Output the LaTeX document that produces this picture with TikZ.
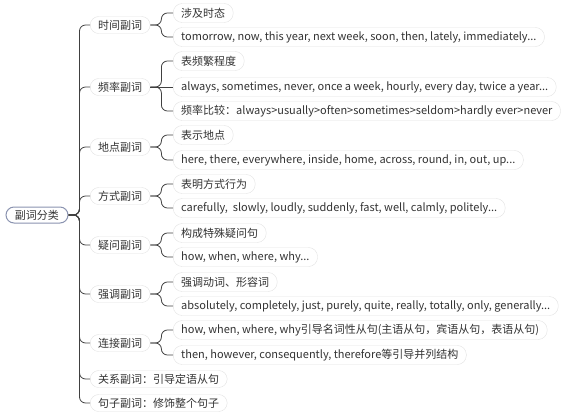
\documentclass[tikz,border=0pt]{standalone}
\usepackage{fontspec}
\setmainfont{Noto Sans CJK SC}
\usepackage{tikz}
\usetikzlibrary{shapes, arrows.meta}

\definecolor{txt}{HTML}{333333}
\definecolor{pill}{HTML}{E2E2E2}
\definecolor{rootline}{HTML}{8A93B0}
\definecolor{wire}{HTML}{404040}

\begin{document}
\begin{tikzpicture}[x=1pt, y=-1pt,
    root/.style={draw=rootline, line width=1pt, rounded corners=8pt, fill=white, text=txt,
                 minimum height=16pt, inner xsep=9pt, inner ysep=1pt, font=\fontsize{11}{12}\selectfont},
    topic/.style={draw=pill, rounded corners=8.5pt, fill=white, text=txt, anchor=west,
                  minimum height=17pt, inner xsep=8pt, inner ysep=1pt, font=\fontsize{11}{12}\selectfont},
    leaf/.style={draw=pill, rounded corners=9pt, fill=white, text=txt, anchor=west,
                 minimum height=19pt, inner xsep=8pt, inner ysep=1pt, font=\fontsize{11}{12}\selectfont},
    link/.style={draw=wire, line width=0.8pt, rounded corners=6pt}]
            \useasboundingbox (0,0) rectangle (576,416);

            \node[root] (root) at (37, 215) {副词分类};

            \node[topic] (t1) at (90, 25) {时间副词};
            \node[topic] (t2) at (90, 87) {频率副词};
            \node[topic] (t3) at (90, 147) {地点副词};
            \node[topic] (t4) at (90, 196) {方式副词};
            \node[topic] (t5) at (90, 245) {疑问副词};
            \node[topic] (t6) at (90, 294) {强调副词};
            \node[topic] (t7) at (90, 343) {连接副词};
            \node[topic] (t8) at (90, 379) {关系副词：引导定语从句};
            \node[topic] (t9) at (90, 403) {句子副词：修饰整个句子};

            \node[leaf] (l11) at (173, 13) {涉及时态};
            \node[leaf] (l12) at (173, 37) {tomorrow, now, this year, next week, soon, then, lately, immediately...};
            \node[leaf] (l21) at (173, 61) {表频繁程度};
            \node[leaf] (l22) at (173, 87) {always, sometimes, never, once a week, hourly, every day, twice a year...};
            \node[leaf] (l23) at (173, 111) {频率比较：always>usually>often>sometimes>seldom>hardly ever>never};
            \node[leaf] (l31) at (173, 135) {表示地点};
            \node[leaf] (l32) at (173, 160) {here, there, everywhere, inside, home, across, round, in, out, up...};
            \node[leaf] (l41) at (173, 184) {表明方式行为};
            \node[leaf] (l42) at (173, 208) {carefully,\ \ slowly, loudly, suddenly, fast, well, calmly, politely...};
            \node[leaf] (l51) at (173, 233) {构成特殊疑问句};
            \node[leaf] (l52) at (173, 257) {how, when, where, why...};
            \node[leaf] (l61) at (173, 282) {强调动词、形容词};
            \node[leaf] (l62) at (173, 306) {absolutely, completely, just, purely, quite, really, totally, only, generally...};
            \node[leaf] (l71) at (173, 330) {how, when, where, why引导名词性从句(主语从句，宾语从句，表语从句)};
            \node[leaf] (l72) at (173, 355) {then, however, consequently, therefore等引导并列结构};

            % trunk
            \draw[link] (root.east) -- ++(11,0) |- (t1.west);
            \draw[link] (root.east) -- ++(11,0) |- (t2.west);
            \draw[link] (root.east) -- ++(11,0) |- (t3.west);
            \draw[link] (root.east) -- ++(11,0) |- (t4.west);
            \draw[link] (root.east) -- ++(11,0) |- (t5.west);
            \draw[link] (root.east) -- ++(11,0) |- (t6.west);
            \draw[link] (root.east) -- ++(11,0) |- (t7.west);
            \draw[link] (root.east) -- ++(11,0) |- (t8.west);
            \draw[link] (root.east) -- ++(11,0) |- (t9.west);

            % branches
            \draw[link] (t1.east) -- ++(11,0) |- (l11.west);
            \draw[link] (t1.east) -- ++(11,0) |- (l12.west);
            \draw[link] (t2.east) -- ++(11,0) |- (l21.west);
            \draw[link] (t2.east) -- (l22.west);
            \draw[link] (t2.east) -- ++(11,0) |- (l23.west);
            \draw[link] (t3.east) -- ++(11,0) |- (l31.west);
            \draw[link] (t3.east) -- ++(11,0) |- (l32.west);
            \draw[link] (t4.east) -- ++(11,0) |- (l41.west);
            \draw[link] (t4.east) -- ++(11,0) |- (l42.west);
            \draw[link] (t5.east) -- ++(11,0) |- (l51.west);
            \draw[link] (t5.east) -- ++(11,0) |- (l52.west);
            \draw[link] (t6.east) -- ++(11,0) |- (l61.west);
            \draw[link] (t6.east) -- ++(11,0) |- (l62.west);
            \draw[link] (t7.east) -- ++(11,0) |- (l71.west);
            \draw[link] (t7.east) -- ++(11,0) |- (l72.west);
        \end{tikzpicture}
\end{document}
